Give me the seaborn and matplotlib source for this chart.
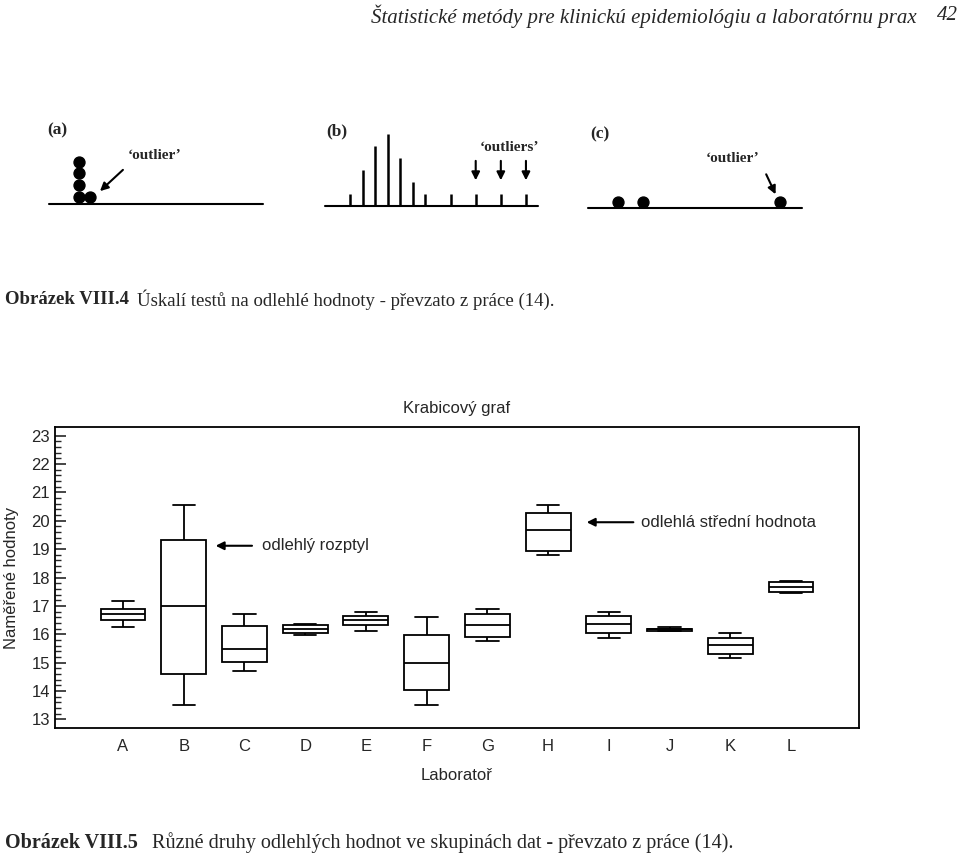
import numpy as np
import pandas as pd
import matplotlib
matplotlib.use("Agg")
import matplotlib.pyplot as plt
import seaborn as sns

# --- data: box plot (pet cisel pro kazdou laborator) ---
labs = list("ABCDEFGHIJKL")
w_lo = [16.27, 13.49, 14.71, 15.98, 16.11, 13.49, 15.77, 18.79, 15.88, 16.10, 15.16, 17.44]
q1 = [16.50, 14.60, 15.03, 16.05, 16.33, 14.03, 15.91, 18.93, 16.04, 16.13, 15.31, 17.49]
med = [16.71, 17.00, 15.49, 16.19, 16.50, 14.97, 16.33, 19.67, 16.35, 16.17, 15.61, 17.65]
q3 = [16.89, 19.32, 16.30, 16.31, 16.65, 15.97, 16.71, 20.28, 16.65, 16.20, 15.88, 17.83]
w_hi = [17.17, 20.57, 16.71, 16.37, 16.77, 16.61, 16.88, 20.57, 16.77, 16.24, 16.05, 17.89]

# --- data: schemata nahore ---
a_x = [0, 0, 0, 0, 1]          # (a) sloupec teček + outlier
a_level = [0, 1, 2, 3, 0]
b_pos = [0, 1, 2, 3, 4, 5, 6, 8, 10, 12, 14]
b_cnt = [1, 3, 5, 6, 4, 2, 1, 1, 1, 1, 1]
b_out = [10, 12, 14]
c_x = [0, 1, 6.5]

df = pd.DataFrame({
    "lab": np.repeat(labs, 5),
    "value": np.column_stack([w_lo, q1, med, q3, w_hi]).ravel(),
})

sns.set_style("white")
plt.rcParams["font.family"] = ["Liberation Sans", "DejaVu Sans"]

W, H = 960, 855
fig = plt.figure(figsize=(9.6, 8.55), dpi=100)

def fx(px):
    return px / W

def fy(py):
    return 1 - py / H

serif = ["Liberation Serif", "DejaVu Serif"]

# hlavicka stranky
fig.text(fx(917), fy(16), "Štatistické metódy pre klinickú epidemiológiu a laboratórnu prax",
         ha="right", va="center", style="italic", family=serif, fontsize=15)
fig.text(fx(958), fy(16), "42", ha="right", va="center", style="italic", family=serif, fontsize=15)

# --- (a) ---
ax_a = fig.add_axes([fx(49), fy(204.3), fx(263) - fx(49), fy(120) - fy(204.3)])
ax_a.set_xlim(-2.56, 15.89)
ax_a.set_ylim(-0.09, 6.99)
ax_a.axis("off")
ax_a.axhline(-0.09, color="black", lw=1.5, clip_on=False)
ax_a.scatter(a_x, np.array(a_level) + 0.5, s=62, color="black", clip_on=False)
ax_a.text(-2.73, 6.15, "(a)", family=serif, weight="bold", fontsize=12.5, va="center", ha="left")
ax_a.text(6.58, 4.05, "‘outlier’", family=serif, weight="bold", fontsize=11, va="center", ha="center")
ax_a.annotate("", xy=(1.66, 0.86), xytext=(3.99, 2.96),
              arrowprops=dict(arrowstyle="-|>", color="black", lw=1.5, mutation_scale=12))

# --- (b) ---
ax_b = fig.add_axes([fx(325), fy(205.7), fx(538) - fx(325), fy(120) - fy(205.7)])
ax_b.set_xlim(-2.0, 14.96)
ax_b.set_ylim(0, 7.2)
ax_b.axis("off")
ax_b.axhline(0, color="black", lw=1.5, clip_on=False)
ax_b.vlines(b_pos, 0, b_cnt, color="black", lw=1.8)
for p in b_out:
    ax_b.annotate("", xy=(p, 1.9), xytext=(p, 4.0),
                  arrowprops=dict(arrowstyle="-|>", color="black", lw=1.5, mutation_scale=12))
ax_b.text(-1.9, 6.28, "(b)", family=serif, weight="bold", fontsize=12.5, va="center", ha="left")
ax_b.text(12.7, 4.85, "‘outliers’", family=serif, weight="bold", fontsize=11, va="center", ha="center")

# --- (c) ---
ax_c = fig.add_axes([fx(588), fy(207.7), fx(802) - fx(588), fy(120) - fy(207.7)])
ax_c.set_xlim(-1.19, 7.37)
ax_c.set_ylim(0, 7.4)
ax_c.axis("off")
ax_c.axhline(0, color="black", lw=1.5, clip_on=False)
ax_c.scatter(c_x, [0.46] * len(c_x), s=62, color="black", clip_on=False)
ax_c.text(-1.1, 6.19, "(c)", family=serif, weight="bold", fontsize=12.5, va="center", ha="left")
ax_c.text(4.6, 4.18, "‘outlier’", family=serif, weight="bold", fontsize=11, va="center", ha="center")
ax_c.annotate("", xy=(6.36, 0.92), xytext=(5.89, 3.03),
              arrowprops=dict(arrowstyle="-|>", color="black", lw=1.5, mutation_scale=12))

# popisek obrazku VIII.4
fig.text(fx(5), fy(300), "Obrázek VIII.4", family=serif, weight="bold", fontsize=13.5, va="center")
fig.text(fx(137), fy(300), "Úskalí testů na odlehlé hodnoty - převzato z práce (14).",
         family=serif, fontsize=13.5, va="center")

# --- krabicovy graf ---
ax = fig.add_axes([fx(55), fy(728), fx(859) - fx(55), fy(427) - fy(728)])
sns.boxplot(data=df, x="lab", y="value", order=labs, whis=(0, 100), width=0.74,
            color="white", linecolor="black", linewidth=1.3, ax=ax)
ax.set_xlim(-1.12, 12.12)
ax.set_ylim(12.69, 23.31)
ax.set_yticks(np.arange(13, 24, 1))
ax.set_yticks(np.arange(13, 23.01, 0.2), minor=True)
ax.tick_params(axis="y", which="major", direction="in", length=8, width=1.2, labelsize=12, left=True)
ax.tick_params(axis="y", which="minor", direction="in", length=4, width=1.0, left=True)
ax.tick_params(axis="x", length=0, pad=8, labelsize=12)
for s in ax.spines.values():
    s.set_linewidth(1.3)
    s.set_color("black")
ax.set_title("Krabicový graf", fontsize=12, pad=10)
ax.set_xlabel("Laboratoř", fontsize=12, labelpad=10)
ax.set_ylabel("Naměřené hodnoty", fontsize=12, labelpad=9)

ax.annotate("", xy=(1.48, 19.12), xytext=(2.17, 19.12),
            arrowprops=dict(arrowstyle="-|>", color="black", lw=1.5, mutation_scale=12))
ax.text(2.29, 19.12, "odlehlý rozptyl", fontsize=12, va="center", ha="left")
ax.annotate("", xy=(7.59, 19.95), xytext=(8.45, 19.95),
            arrowprops=dict(arrowstyle="-|>", color="black", lw=1.5, mutation_scale=12))
ax.text(8.53, 19.95, "odlehlá střední hodnota", fontsize=12, va="center", ha="left")

# popisek obrazku VIII.5
fig.text(fx(5), fy(843), "Obrázek VIII.5", family=serif, weight="bold", fontsize=14.5, va="center")
fig.text(fx(152), fy(843), "Různé druhy odlehlých hodnot ve skupinách dat - převzato z práce (14).",
         family=serif, fontsize=14.5, va="center")

fig.savefig("out.png", dpi=100)
